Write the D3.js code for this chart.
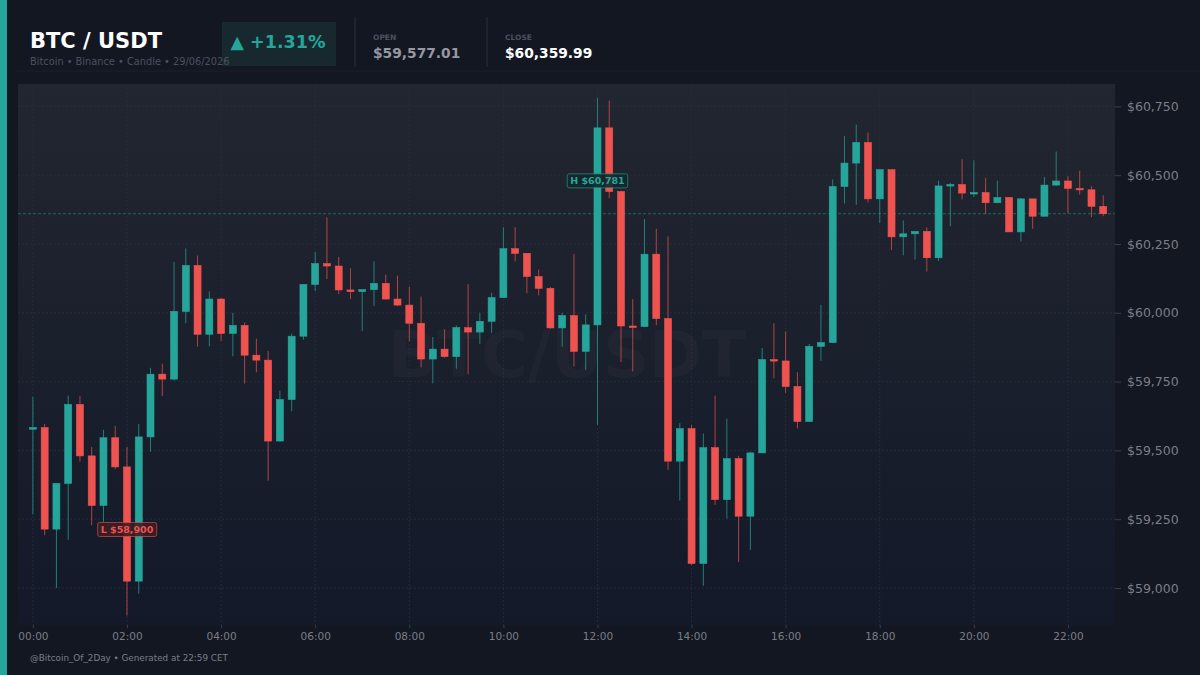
<!DOCTYPE html>
<html>
<head>
<meta charset="utf-8">
<script src="https://cdn.jsdelivr.net/npm/d3@7"></script>
<style>
  html, body { margin: 0; padding: 0; background: #131722; }
  svg { display: block; font-family: 'DejaVu Sans', sans-serif; }
</style>
</head>
<body>
<svg id="chart" width="1200" height="675"></svg>
<script>
const W = 1200;
const H = 675;
const UP = '#26a69a';
const DOWN = '#ef5350';

// 15-minute candles, 00:00 to 22:45
const opens = [
  59577.01, 59583, 59214, 59380, 59667, 59480, 59300, 59546, 59440, 59025,
  59549, 59777, 59759, 60005, 60172, 59922, 60050, 59925, 59954, 59846,
  59828, 59534, 59685, 59915, 60103, 60179, 60170, 60083, 60077, 60084,
  60107, 60050, 60028, 59962, 59832, 59868, 59841, 59946, 59930, 59969,
  60055, 60233, 60216, 60132, 60089, 59945, 59990, 59860, 59956, 60672,
  60441, 59952, 59950, 60213, 59979, 59461, 59579, 59089, 59510, 59321,
  59470, 59261, 59491, 59830, 59825, 59732, 59605, 59878, 59892, 60459,
  60544, 60619, 60414, 60520, 60276, 60287, 60296, 60200, 60461, 60466,
  60435, 60437, 60400, 60419, 60294, 60414, 60351, 60464, 60479, 60452,
  60447, 60387
];
const highs = [
  59695, 59596, 59380, 59699, 59697, 59513, 59575, 59589, 59513, 59596,
  59800, 59815, 60185, 60234, 60208, 60078, 60054, 60000, 59965, 59906,
  59862, 59717, 59925, 60103, 60222, 60347, 60203, 60162, 60084, 60187,
  60139, 60135, 60095, 60059, 59912, 59940, 59954, 60104, 60000, 60073,
  60311, 60311, 60216, 60157, 60094, 60000, 60214, 59994, 60781, 60771,
  60441, 60050, 60341, 60305, 60278, 59599, 59593, 59561, 59699, 59615,
  59480, 59495, 59872, 59962, 59932, 59784, 59887, 60029, 60485, 60642,
  60684, 60655, 60520, 60520, 60336, 60293, 60311, 60480, 60472, 60558,
  60554, 60491, 60480, 60419, 60416, 60414, 60494, 60586, 60496, 60516,
  60460, 60427
];
const lows = [
  59267, 59192, 59000, 59175, 59459, 59228, 59240, 59432, 58900, 58979,
  59495, 59697, 59754, 59962, 59877, 59878, 59897, 59842, 59743, 59784,
  59390, 59532, 59642, 59902, 60079, 60123, 60068, 60050, 59934, 60025,
  60048, 60025, 59896, 59802, 59744, 59837, 59797, 59777, 59887, 59927,
  60055, 60187, 60071, 60063, 59942, 59877, 59805, 59792, 59593, 60416,
  59821, 59787, 59948, 59955, 59429, 59318, 59083, 59008, 59302, 59252,
  59094, 59138, 59491, 59762, 59709, 59580, 59603, 59825, 59890, 60397,
  60392, 60401, 60326, 60228, 60209, 60193, 60150, 60188, 60315, 60412,
  60421, 60358, 60398, 60294, 60259, 60305, 60349, 60462, 60362, 60430,
  60348, 60351
];
const closes = [
  59583, 59214, 59380, 59667, 59480, 59300, 59546, 59440, 59025, 59549,
  59777, 59759, 60005, 60172, 59922, 60050, 59925, 59954, 59846, 59828,
  59534, 59685, 59915, 60103, 60179, 60170, 60083, 60077, 60084, 60107,
  60050, 60028, 59962, 59832, 59868, 59841, 59946, 59930, 59969, 60055,
  60233, 60216, 60132, 60089, 59945, 59990, 59860, 59956, 60672, 60441,
  59952, 59950, 60213, 59979, 59461, 59579, 59089, 59510, 59321, 59470,
  59261, 59491, 59830, 59825, 59732, 59605, 59878, 59892, 60459, 60544,
  60619, 60414, 60520, 60276, 60287, 60296, 60200, 60461, 60466, 60435,
  60437, 60400, 60419, 60294, 60414, 60351, 60464, 60479, 60452, 60447,
  60387, 60359.99
];

const priceTicks = [59000, 59250, 59500, 59750, 60000, 60250, 60500, 60750];
const timeTickHours = [0, 2, 4, 6, 8, 10, 12, 14, 16, 18, 20, 22];

const day = new Date(2026, 5, 29);
const candles = opens.map((o, i) => ({
  t: d3.timeMinute.offset(day, i * 15),
  open: o, high: highs[i], low: lows[i], close: closes[i]
}));

const plot = { left: 18, right: 1115, top: 84, bottom: 625 };

const svg = d3.select('#chart');
const defs = svg.append('defs');
const grad = defs.append('linearGradient').attr('id', 'plotBg')
  .attr('x1', 0).attr('y1', 0).attr('x2', 0).attr('y2', 1);
grad.append('stop').attr('offset', '0%').attr('stop-color', '#222630');
grad.append('stop').attr('offset', '100%').attr('stop-color', '#131929');

svg.append('rect').attr('width', W).attr('height', H).attr('fill', '#131722');
svg.append('rect').attr('x', 0).attr('y', 0).attr('width', 7).attr('height', H).attr('fill', UP);

// header
const first = candles[0].open;
const last = candles[candles.length - 1].close;
const pct = (last / first - 1) * 100;

svg.append('rect').attr('x', 222).attr('y', 22).attr('width', 114).attr('height', 44)
  .attr('fill', '#17292f');
svg.append('text').attr('x', 278).attr('y', 48)
  .attr('text-anchor', 'middle').attr('fill', UP)
  .style('font-size', '17.5px').style('font-weight', 'bold')
  .text(`▲ +${pct.toFixed(2)}%`);

svg.append('text').attr('x', 30).attr('y', 48)
  .attr('fill', '#ffffff').style('font-size', '21px').style('font-weight', 'bold')
  .text('BTC / USDT');
svg.append('text').attr('x', 30).attr('y', 65)
  .attr('fill', '#4b5160').style('font-size', '9.8px')
  .text('Bitcoin • Binance • Candle • 29/06/2026');

svg.append('line').attr('x1', 355).attr('x2', 355).attr('y1', 17).attr('y2', 67)
  .attr('stroke', '#2a2e39');
svg.append('line').attr('x1', 487).attr('x2', 487).attr('y1', 17).attr('y2', 67)
  .attr('stroke', '#2a2e39');

const money = d3.format(',.2f');
svg.append('text').attr('x', 373).attr('y', 40).attr('fill', '#4b5160')
  .style('font-size', '7.5px').style('font-weight', 'bold').text('OPEN');
svg.append('text').attr('x', 373).attr('y', 58).attr('fill', '#9598a1')
  .style('font-size', '13.8px').style('font-weight', 'bold').text('$' + money(first));
svg.append('text').attr('x', 505).attr('y', 40).attr('fill', '#4b5160')
  .style('font-size', '7.5px').style('font-weight', 'bold').text('CLOSE');
svg.append('text').attr('x', 505).attr('y', 58).attr('fill', '#ffffff')
  .style('font-size', '13.8px').style('font-weight', 'bold').text('$' + money(last));

svg.append('line').attr('x1', 15).attr('x2', W).attr('y1', 71).attr('y2', 71)
  .attr('stroke', '#1c2030');

// plot panel
svg.append('rect').attr('x', plot.left).attr('y', plot.top)
  .attr('width', plot.right - plot.left).attr('height', plot.bottom - plot.top)
  .attr('fill', 'url(#plotBg)');

const x = d3.scaleTime()
  .domain([d3.timeMinute.offset(day, -19), d3.timeHour.offset(day, 23)])
  .range([plot.left, plot.right]);
const y = d3.scaleLinear()
  .domain([59000, 60750])
  .range([588, 106.4]);

// grid
svg.append('g').selectAll('line').data(priceTicks).join('line')
  .attr('x1', plot.left).attr('x2', plot.right)
  .attr('y1', (d) => y(d)).attr('y2', (d) => y(d))
  .attr('stroke', '#2a2f3c').attr('stroke-dasharray', '2,2').attr('stroke-width', 0.8);
svg.append('g').selectAll('line').data(timeTickHours).join('line')
  .attr('x1', (d) => x(d3.timeHour.offset(day, d))).attr('x2', (d) => x(d3.timeHour.offset(day, d)))
  .attr('y1', plot.top).attr('y2', plot.bottom)
  .attr('stroke', '#2a2f3c').attr('stroke-dasharray', '2,2').attr('stroke-width', 0.8);

// watermark
svg.append('text').attr('x', 567).attr('y', 377)
  .attr('text-anchor', 'middle').attr('fill', '#ffffff').attr('fill-opacity', 0.025)
  .style('font-size', '64px').style('font-weight', 'bold')
  .text('BTC/USDT');

// last close line
svg.append('line').attr('x1', plot.left).attr('x2', plot.right)
  .attr('y1', y(last)).attr('y2', y(last))
  .attr('stroke', UP).attr('stroke-opacity', 0.5).attr('stroke-dasharray', '3,2');

// candles
const bw = 7;
const g = svg.append('g');
g.selectAll('line.wick').data(candles).join('line')
  .attr('class', 'wick')
  .attr('x1', (d) => x(d.t)).attr('x2', (d) => x(d.t))
  .attr('y1', (d) => y(d.high)).attr('y2', (d) => y(d.low))
  .attr('stroke', (d) => (d.close >= d.open ? UP : DOWN))
  .attr('stroke-opacity', 0.7).attr('stroke-width', 1);
g.selectAll('rect.body').data(candles).join('rect')
  .attr('class', 'body')
  .attr('x', (d) => x(d.t) - bw / 2)
  .attr('y', (d) => y(Math.max(d.open, d.close)))
  .attr('width', bw)
  .attr('height', (d) => Math.max(1.5, Math.abs(y(d.open) - y(d.close))))
  .attr('fill', (d) => (d.close >= d.open ? UP : DOWN))
  .attr('stroke', (d) => (d.close >= d.open ? UP : DOWN))
  .attr('stroke-width', 0.6);

// high / low labels
const hi = candles.reduce((a, b) => (b.high > a.high ? b : a));
const lo = candles.reduce((a, b) => (b.low < a.low ? b : a));
const tagFmt = d3.format(',.0f');
const tag = (c, text, color, fill, cy) => {
  const t = svg.append('text').attr('x', x(c.t)).attr('y', cy + 3.5)
    .attr('text-anchor', 'middle').attr('fill', color)
    .style('font-size', '9.5px').style('font-weight', 'bold').text(text);
  const bb = t.node().getBBox();
  svg.insert('rect', () => t.node())
    .attr('x', bb.x - 3).attr('y', cy - 7).attr('width', bb.width + 6).attr('height', 14)
    .attr('rx', 2).attr('fill', fill).attr('stroke', color).attr('stroke-opacity', 0.6);
};
tag(hi, `H $${tagFmt(hi.high)}`, UP, 'rgba(20,40,44,0.9)', y(hi.high) + 83);
tag(lo, `L $${tagFmt(lo.low)}`, DOWN, 'rgba(60,30,36,0.9)', y(lo.low) - 86);

// axes
const yAxis = svg.append('g').attr('transform', `translate(${plot.right},0)`)
  .call(d3.axisRight(y).tickValues(priceTicks).tickSize(6).tickPadding(6)
    .tickFormat((d) => '$' + d3.format(',')(d)));
yAxis.select('.domain').remove();
yAxis.selectAll('line').attr('stroke', '#3a3e4a');
yAxis.selectAll('text').attr('fill', '#7a7e88').style('font-size', '12.5px')
  .style('font-family', 'DejaVu Sans, sans-serif');

const xAxis = svg.append('g').attr('transform', `translate(0,${plot.bottom})`)
  .call(d3.axisBottom(x).tickValues(timeTickHours.map((h) => d3.timeHour.offset(day, h)))
    .tickSize(3).tickPadding(5).tickFormat(d3.timeFormat('%H:%M')));
xAxis.select('.domain').remove();
xAxis.selectAll('line').attr('stroke', '#3a3e4a');
xAxis.selectAll('text').attr('fill', '#7a7e88').style('font-size', '10.5px')
  .style('font-family', 'DejaVu Sans, sans-serif');

// footer
svg.append('text').attr('x', 30).attr('y', 661).attr('fill', '#7a7e88')
  .style('font-size', '8.8px').text('@Bitcoin_Of_2Day • Generated at 22:59 CET');
</script>
</body>
</html>
